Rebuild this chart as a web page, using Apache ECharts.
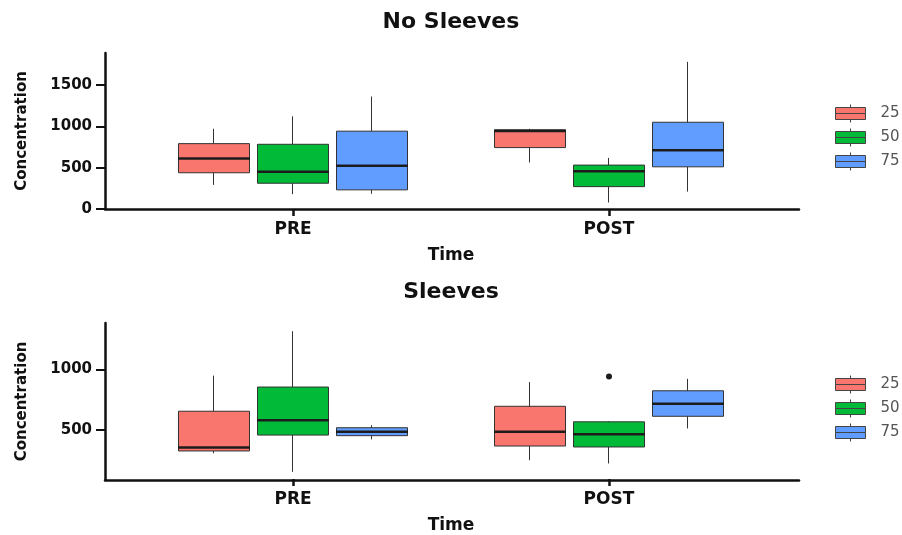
<!DOCTYPE html>
<html><head><meta charset="utf-8">
<script src="https://cdn.jsdelivr.net/npm/echarts@6/dist/echarts.min.js"></script>
<style>html,body{margin:0;padding:0;background:#fff}#c{width:902px;height:535px}</style>
</head><body><div id="c"></div>
<script>
const times = ['PRE', 'POST'];
const doses = ['25', '50', '75'];
const doseColors = ['#F8766D', '#00BA38', '#619CFF'];
// [min, Q1, median, Q3, max] for PRE, POST
const noSleeves25 = [[292, 439, 612, 792, 972], [564, 744, 945, 960, 972]];
const noSleeves50 = [[180, 312, 451, 784, 1123], [79, 271, 456, 532, 619]];
const noSleeves75 = [[184, 232, 523, 943, 1363], [211, 511, 712, 1051, 1783]];
const sleeves25 = [[302, 321, 349, 651, 947], [244, 362, 481, 692, 893]];
const sleeves50 = [[148, 453, 577, 852, 1316], [217, 354, 459, 563, 568]];
const sleeves75 = [[417, 448, 481, 514, 535], [508, 609, 714, 821, 920]];
const noSleevesOutliers = [];
const sleevesOutliers = [['POST', '50', 939]];
const noSleevesTicks = [0, 500, 1000, 1500];
const sleevesTicks = [500, 1000];

const FONT = 'DejaVu Sans';
const slot = (t, d) => t + '|' + d;
const categories = [];
times.forEach((t, i) => {
  if (i > 0) categories.push('gap' + i);
  doses.forEach(d => categories.push(slot(t, d)));
});

const panels = [
  { title: 'No Sleeves', titleTop: 9, top: 53, bottom: 326, min: 0, max: 1890,
    ticks: noSleevesTicks, data: [noSleeves25, noSleeves50, noSleeves75], outliers: noSleevesOutliers, legendTop: 104 },
  { title: 'Sleeves', titleTop: 279, top: 323, bottom: 55, min: 88, max: 1384,
    ticks: sleevesTicks, data: [sleeves25, sleeves50, sleeves75], outliers: sleevesOutliers, legendTop: 375 }
];

const option = {
  animation: false,
  backgroundColor: '#fff',
  title: [], legend: [], grid: [], xAxis: [], yAxis: [], series: []
};

const legendIcon = 'path://M0,3 L30,3 L30,15 L0,15 Z M0,9 L30,9 M15,0 L15,3 M15,15 L15,18';

panels.forEach((p, pi) => {
  const fg = 2 * pi, dg = 2 * pi + 1;
  option.title.push({
    text: p.title, left: 'center', top: p.titleTop, padding: 0,
    textStyle: { fontFamily: FONT, fontSize: 22, fontWeight: 'bold', color: '#111', lineHeight: 26 }
  });
  option.legend.push({
    data: doses, orient: 'vertical', left: 835, top: p.legendTop, padding: 0,
    itemWidth: 30, itemHeight: 18, itemGap: 5, icon: legendIcon,
    itemStyle: { borderColor: '#444', borderWidth: 1 },
    textStyle: { fontFamily: FONT, fontSize: 15, color: '#555', padding: [0, 0, 0, 10] }
  });
  // frame grid (axis lines) and data grid
  option.grid.push({ left: 105, right: 103, top: p.top, bottom: p.bottom });
  option.grid.push({ left: 174.5, right: 174.5, top: p.top, bottom: p.bottom });
  option.xAxis.push({
    type: 'value', gridIndex: fg, min: 0, max: 1,
    axisLine: { show: true, lineStyle: { color: '#111', width: 2.5 } },
    axisTick: { show: false }, axisLabel: { show: false }, splitLine: { show: false }
  });
  option.xAxis.push({
    type: 'category', gridIndex: dg, data: categories, boundaryGap: true,
    name: 'Time', nameLocation: 'middle', nameGap: 38,
    nameTextStyle: { fontFamily: FONT, fontSize: 17, fontWeight: 'bold', color: '#111' },
    axisLine: { show: false },
    axisTick: { show: true, alignWithLabel: true, length: 7, interval: (i, v) => v.endsWith('|' + doses[1]),
      lineStyle: { color: '#111', width: 2.5 } },
    axisLabel: { interval: (i, v) => v.endsWith('|' + doses[1]), margin: 12,
      formatter: v => v.split('|')[0],
      fontFamily: FONT, fontSize: 17, fontWeight: 'bold', color: '#111' },
    splitLine: { show: false }
  });
  option.yAxis.push({
    type: 'value', gridIndex: fg, min: p.min, max: p.max,
    name: 'Concentration', nameLocation: 'middle', nameGap: 75,
    nameTextStyle: { fontFamily: FONT, fontSize: 15, fontWeight: 'bold', color: '#111' },
    axisLine: { show: true, lineStyle: { color: '#111', width: 2.5 } },
    axisTick: { show: true, length: 9, customValues: p.ticks, lineStyle: { color: '#111', width: 2 } },
    axisLabel: { customValues: p.ticks, margin: 13, formatter: v => String(v),
      fontFamily: FONT, fontSize: 15, fontWeight: 'bold', color: '#111' },
    splitLine: { show: false }
  });
  option.yAxis.push({
    type: 'value', gridIndex: dg, min: p.min, max: p.max, show: false, splitLine: { show: false }
  });

  doses.forEach((d, di) => {
    const arr = p.data[di];
    option.series.push({
      type: 'candlestick', name: d, xAxisIndex: dg, yAxisIndex: dg,
      barWidth: 72,
      encode: { x: 0, y: [1, 2, 3, 4] },
      itemStyle: { color: doseColors[di], color0: doseColors[di], borderColor: '#333', borderColor0: '#333', borderWidth: 1 },
      data: times.map((t, ti) => [slot(t, d), arr[ti][1], arr[ti][3], arr[ti][0], arr[ti][4]])
    });
  });
  const medians = [];
  doses.forEach((d, di) => times.forEach((t, ti) => medians.push([slot(t, d), p.data[di][ti][2]])));
  option.series.push({
    type: 'scatter', name: 'median', xAxisIndex: dg, yAxisIndex: dg,
    symbol: 'rect', symbolSize: [72, 2.5], itemStyle: { color: '#1c1c1c', opacity: 1 }, z: 5,
    data: medians
  });
  if (p.outliers.length) {
    option.series.push({
      type: 'scatter', name: 'outlier', xAxisIndex: dg, yAxisIndex: dg,
      symbol: 'circle', symbolSize: 6, itemStyle: { color: '#1c1c1c', opacity: 1 }, z: 5,
      data: p.outliers.map(o => [slot(o[0], o[1]), o[2]])
    });
  }
});

const chart = echarts.init(document.getElementById('c'), null, { renderer: 'canvas' });
chart.setOption(option);
</script>
</body></html>
